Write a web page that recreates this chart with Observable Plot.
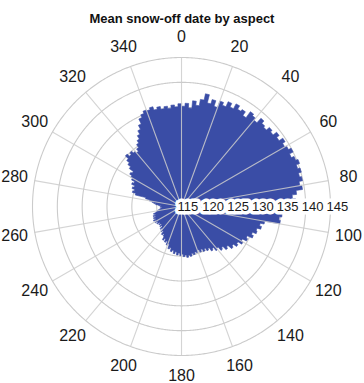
<!DOCTYPE html>
<html><head><meta charset="utf-8">
<script src="https://cdn.jsdelivr.net/npm/d3@7"></script>
<script src="https://cdn.jsdelivr.net/npm/@observablehq/plot@0.6"></script>
<style>
html,body{margin:0;padding:0;background:#fff;}
#wrap{position:relative;width:364px;height:383px;overflow:hidden;}
#title{position:absolute;top:11px;left:0;width:364px;text-align:center;font:bold 13px "Liberation Sans",Arial,sans-serif;color:#111;line-height:16px;z-index:2;}
#wrap svg{position:absolute;left:0;top:0;}
</style></head><body>
<div id="wrap"><div id="title">Mean snow-off date by aspect</div></div>
<script>
// Mean snow-off date (day of year) per 2° aspect bin, starting at 0° (north), clockwise
const binWidth = 2;
const snowOff = [
135.2,135.8,134.9,136.4,135.6,136.9,138.2,136.5,137.4,136.2,
137.6,137.0,138.1,137.3,138.4,137.6,138.0,137.1,138.6,138.2,
137.7,138.9,138.3,138.0,138.8,138.4,139.3,138.7,139.6,139.0,
139.4,140.0,139.2,139.8,140.3,139.6,140.1,139.5,139.9,139.2,
139.6,138.3,137.4,138.0,136.8,135.6,135.0,135.3,134.8,135.1,
132.0,131.2,131.6,130.8,131.0,130.2,130.6,129.5,129.8,128.9,
129.3,128.4,128.7,127.9,128.2,127.2,127.5,126.6,126.9,126.0,
126.3,125.5,125.8,125.0,125.3,124.7,125.1,124.5,124.9,124.4,
124.8,124.6,125.0,124.7,125.2,124.9,125.3,124.8,125.1,124.6,
124.9,124.4,124.8,124.2,124.6,124.0,124.3,123.6,123.9,123.0,
123.3,122.6,122.9,122.3,122.7,122.0,121.6,121.9,121.2,121.5,
120.9,121.2,120.6,120.9,120.4,120.8,120.5,121.0,120.7,121.2,
120.9,121.3,120.8,121.1,120.6,121.0,120.5,120.8,120.3,120.0,
119.7,119.4,119.2,119.0,119.3,119.1,119.6,120.2,120.6,121.0,
121.6,122.4,124.6,125.3,125.0,125.6,125.3,126.0,125.7,126.4,
126.8,127.3,127.0,128.0,128.7,129.4,130.2,129.6,130.0,129.5,
129.1,129.7,130.4,131.0,131.8,132.6,133.5,134.6,135.2,135.7,
135.5,135.9,135.2,135.6,135.0,135.4,134.9,135.5,135.1,135.7
];
const radialTicks = [115, 120, 125, 130, 135, 140, 145];
const angleTicks = [0, 20, 40, 60, 80, 100, 120, 140, 160, 180, 200, 220, 240, 260, 280, 300, 320, 340];

const rMin = 115, rMax = 145;
const pxPerUnit = 149 / (rMax - rMin);
const domainR = 177 / pxPerUnit;   // degrees on the sphere fitting the frame
const labelR = 169.5 / pxPerUnit;
const lon = a => 180 - a;          // compass angle -> longitude (0 at top, clockwise)
const lat = v => 90 - (v - rMin);  // value -> latitude (115 at the pole)

const ring = [];
snowOff.forEach((v, i) => {
  const a0 = i * binWidth, a1 = a0 + binWidth;
  ring.push([lon(a0), lat(v)], [lon(a1), lat(v)]);
});
ring.push(ring[0]);
const shape = {type: "Polygon", coordinates: [ring]};

const circles = radialTicks.slice(1).map(v => d3.geoCircle().center([0, 90]).radius(v - rMin).precision(0.5)());
const spokes = angleTicks.map(a => ({type: "LineString", coordinates: [[lon(a), 90], [lon(a), lat(rMax)]]}));

const font = '"Liberation Sans", Arial, Helvetica, sans-serif';
const chart = Plot.plot({
  width: 364,
  height: 383,
  marginTop: 29, marginBottom: 0, marginLeft: 0, marginRight: 2,
  style: {fontFamily: font, background: "white", overflow: "visible"},
  projection: {
    type: "azimuthal-equidistant",
    rotate: [0, -90],
    domain: d3.geoCircle().center([0, 90]).radius(domainR).precision(0.5)()
  },
  marks: [
    Plot.geo(circles, {stroke: "#cbcbcb", strokeWidth: 1.1, fill: "none"}),
    Plot.geo([shape], {fill: "#3a4da6", stroke: "#3a4da6", strokeWidth: 0.6}),
    Plot.geo(spokes, {stroke: "#cdcdcd", strokeWidth: 1.1, strokeOpacity: 0.85}),
    Plot.text(radialTicks, {
      x: 90, y: v => lat(v), text: d => String(d),
      textAnchor: "start", dx: -4, fontSize: 13, fill: "#1a1a1a",
      stroke: "white", strokeWidth: 7, strokeLinejoin: "round"
    }),
    Plot.text(angleTicks, {
      x: a => lon(a), y: lat(rMin + labelR), text: d => String(d),
      fontSize: 16, fill: "#1a1a1a"
    })
  ]
});
document.getElementById("wrap").appendChild(chart);
</script>
</body></html>
